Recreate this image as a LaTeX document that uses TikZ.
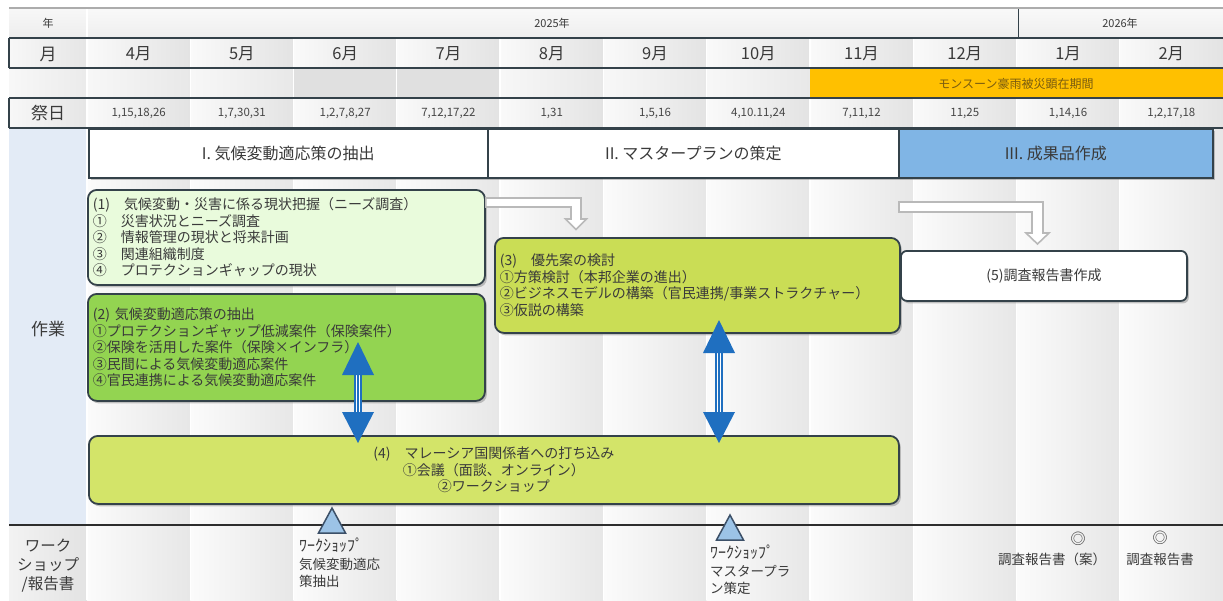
\documentclass[tikz,border=0pt]{standalone}
\usepackage{fontspec}
\setmainfont{Noto Sans CJK JP}
\usetikzlibrary{shadows}
\definecolor{txt}{HTML}{3A3A3A}
\definecolor{lineD}{HTML}{34424A}
\definecolor{orangeM}{HTML}{FFC000}
\definecolor{monTxt}{HTML}{7A5C10}
\definecolor{lblue}{HTML}{E3EBF6}
\definecolor{phaseBlue}{HTML}{80B5E5}
\definecolor{gA}{HTML}{E9FBDC}
\definecolor{gB}{HTML}{93D451}
\definecolor{gC}{HTML}{CADD55}
\definecolor{gD}{HTML}{D3E469}
\definecolor{arrowBlue}{HTML}{1F6FC0}
\definecolor{triBlue}{HTML}{9CC3E6}
\definecolor{triLine}{HTML}{3C5068}
\begin{document}
\begin{tikzpicture}[x=1pt,y=-1pt,
  every node/.style={text=txt, inner sep=0pt},
  boxshadow/.style={drop shadow={shadow xshift=2pt, shadow yshift=-2.5pt, opacity=0.45}},
  taskbox/.style={draw=lineD, line width=1.8pt, rounded corners=9pt, anchor=north west,
    inner xsep=5pt, inner ysep=0pt, align=left, font=\fontsize{14}{16.6}\selectfont, boxshadow},
  phasebox/.style={draw=lineD, line width=1.6pt, anchor=north west, fill=white,
    font=\fontsize{16}{18}\selectfont, boxshadow},
  monthlbl/.style={font=\fontsize{16.5}{18}\selectfont, text=txt},
  holilbl/.style={font=\fontsize{11.5}{13}\selectfont, text=gray!55!black},
  rowlbl/.style={font=\fontsize{17}{19}\selectfont, text=txt},
  smalllbl/.style={font=\fontsize{13.5}{17.5}\selectfont, text=txt, align=left, anchor=north west},
  hollowarrow/.style={draw=gray!55, line width=1.6pt, fill=white, line join=miter},
  tribox/.style={draw=triLine, line width=1.5pt, fill=triBlue, line join=miter}
]
\useasboundingbox (0,0) rectangle (1223,600);
\fill[white] (0,0) rectangle (1223,600);

% ---------- backgrounds ----------
\shade[top color=gray!6, bottom color=gray!14] (9,8) rectangle (87,38);
\shade[top color=gray!5, bottom color=gray!13] (87,8) rectangle (1223,38);
\draw[white, line width=1.5pt] (87,8) -- (87,38);
\draw[lineD, line width=1pt] (1018,8) -- (1018,38);
\draw[gray!65, line width=1.8pt] (9,8) -- (1223,8);

\shade[left color=gray!6, right color=gray!20] (9,38) rectangle (87,68);
\shade[left color=gray!6, right color=gray!16] (9,68) rectangle (87,98);
\shade[left color=gray!6, right color=gray!20] (9,98) rectangle (87,128);
\fill[lblue] (9,128) rectangle (87,525);
\shade[left color=gray!10, right color=gray!22] (9,525) rectangle (87,600);

\foreach \i in {0,...,10}{
  \pgfmathsetmacro\xl{87+103.27*\i}
  \pgfmathsetmacro\xr{87+103.27*(\i+1)}
  \shade[left color=gray!3, right color=gray!19] (\xl,128) rectangle (\xr,600);
  \shade[left color=gray!4, right color=gray!22] (\xl,38) rectangle (\xr,68);
  \shade[left color=gray!6, right color=gray!18] (\xl,68) rectangle (\xr,98);
  \shade[left color=gray!4, right color=gray!22] (\xl,98) rectangle (\xr,128);
}
\fill[gray!24] (293.54,68) rectangle (500.08,98);
\fill[orangeM] (809.9,68) rectangle (1223,98);
\foreach \i in {0,...,10}{
  \pgfmathsetmacro\xl{87+103.27*\i}
  \draw[white, line width=1.3pt] (\xl,38) -- (\xl,68);
  \draw[white, line width=1.3pt] (\xl,98) -- (\xl,600);
  \ifnum\i<7 \draw[white, line width=1.3pt] (\xl,68) -- (\xl,98); \fi
}

\draw[lineD, line width=1.2pt] (9,38) -- (1223,38) (9,68) -- (1223,68)
  (9,98) -- (1223,98) (9,128) -- (1223,128);
\draw[lineD, line width=1.2pt] (9,38) -- (9,68) (9,98) -- (9,128);
\draw[gray!35!black, line width=1.2pt] (9,525) -- (1223,525);

% ---------- header texts ----------
\node[font=\fontsize{11}{13}\selectfont] (yl) at (48,23) {年};
\node[font=\fontsize{11}{13}\selectfont] (y25) at (552,23) {2025年};
\node[font=\fontsize{11}{13}\selectfont] (y26) at (1120,23) {2026年};
\node[rowlbl] (ml) at (48,54) {月};
\node[rowlbl] (hl) at (48,113) {祭日};
\node[rowlbl] (wl) at (48,329) {作業};
\node[rowlbl, font=\fontsize{15.5}{19}\selectfont, align=center] (bl) at (48,566) {ワーク\\ショップ\\/報告書};

\foreach \m [count=\i from 0] in {4,5,6,7,8,9,10,11,12,1,2}{
  \pgfmathsetmacro\cx{87+103.27*(\i+0.5)}
  \node[monthlbl] (mo\i) at (\cx,54) {\m 月};
}
\foreach \h [count=\i from 0] in {{1,15,18,26},{1,7,30,31},{1,2,7,8,27},{7,12,17,22},{1,31},{1,5,16},{4,10.11,24},{7,11,12},{11,25},{1,14,16},{1,2,17,18}}{
  \pgfmathsetmacro\cx{87+103.27*(\i+0.5)}
  \node[holilbl] (ho\i) at (\cx,113) {\h};
}
\node[font=\fontsize{12}{14}\selectfont, text=monTxt] (mon) at (1016,84) {モンスーン豪雨被災顕在期間};

% ---------- phase boxes ----------
\node[phasebox, minimum width=399pt, minimum height=49pt] (p1) at (88,128) {I. 気候変動適応策の抽出};
\node[phasebox, minimum width=411pt, minimum height=49pt] (p2) at (487,128) {II. マスタープランの策定};
\node[phasebox, fill=phaseBlue, minimum width=314pt, minimum height=49pt] (p3) at (898,128) {III. 成果品作成};

% ---------- task boxes ----------
\node[taskbox, fill=gA, text width=387pt, minimum height=95pt] (n1) at (87,189)
  {(1)　気候変動・災害に係る現状把握（ニーズ調査）\\
   ①　災害状況とニーズ調査\\
   ②　情報管理の現状と将来計画\\
   ③　関連組織制度\\
   ④　プロテクションギャップの現状};
\node[taskbox, fill=gB, text width=387pt, minimum height=107pt] (n2) at (87,293)
  {(2) 気候変動適応策の抽出\\
   ①プロテクションギャップ低減案件（保険案件）\\
   ②保険を活用した案件（保険×インフラ）\\
   ③民間による気候変動適応案件\\
   ④官民連携による気候変動適応案件};
\node[taskbox, fill=gC, text width=395pt, minimum height=95pt] (n3) at (494,237)
  {(3)　優先案の検討\\
   ①方策検討（本邦企業の進出）\\
   ②ビジネスモデルの構築（官民連携/事業ストラクチャー）\\
   ③仮説の構築\\[10pt]};
\node[taskbox, fill=gD, text width=800pt, minimum height=68pt, align=center] (n4) at (88,435)
  {(4)　マレーシア国関係者への打ち込み\\
   ①会議（面談、オンライン）\\
   ②ワークショップ};
\node[taskbox, fill=white, rounded corners=6pt, text width=276pt, minimum height=50pt,
  align=center, font=\fontsize{14}{16}\selectfont] (n5) at (900,250) {(5)調査報告書作成};

% ---------- hollow gray arrows ----------
\coordinate (ga) at (n1.east |- 0,198);
\draw[hollowarrow] (ga) -- (581,198) -- (581,219) -- (586.5,219) -- (576,229.5)
  -- (565.5,219) -- (571,219) -- (571,207) -- (ga |- 0,207) -- cycle;
\coordinate (gb) at (899,202);
\draw[hollowarrow] (gb) -- (1043,202) -- (1043,233) -- (1049,233) -- (1037.5,244)
  -- (1026,233) -- (1032,233) -- (1032,212) -- (gb |- 0,212) -- cycle;

% ---------- blue double arrows ----------
\foreach \nm/\x/\ytop in {ba/358/342, bb/719/320}{
  \coordinate (\nm t) at (\x,\ytop);
  \coordinate (\nm b) at (\x,443);
  \draw[arrowBlue, line width=7.5pt] ([yshift=-30pt]\nm t) -- ([yshift=28pt]\nm b);
  \draw[white, line width=4.5pt] ([yshift=-30pt]\nm t) -- ([yshift=28pt]\nm b);
  \draw[arrowBlue, line width=1.5pt] ([yshift=-30pt]\nm t) -- ([yshift=28pt]\nm b);
  \fill[arrowBlue] (\nm t) -- ++(-16,33) -- ++(32,0) -- cycle;
  \fill[arrowBlue] (\nm b) -- ++(-16,-31) -- ++(32,0) -- cycle;
}

% ---------- bottom row ----------
\draw[tribox] (332,508) -- (345.5,533) -- (318.5,533) -- cycle;
\draw[tribox] (730,515) -- (743.5,540) -- (716.5,540) -- cycle;
\node[smalllbl] (w1) at (299,538) {{\fontsize{16}{17.5}\selectfont ﾜｰｸｼｮｯﾌﾟ}\\気候変動適応\\策抽出};
\node[smalllbl] (w2) at (710,545) {{\fontsize{16}{17.5}\selectfont ﾜｰｸｼｮｯﾌﾟ}\\マスタープラ\\ン策定};
\node[font=\fontsize{15}{17}\selectfont] (r1) at (1078,539) {◎};
\node[font=\fontsize{15}{17}\selectfont] (r2) at (1160,538) {◎};
\node[font=\fontsize{13.5}{16}\selectfont] (r1t) at (1052,559) {調査報告書（案）};
\node[font=\fontsize{13.5}{16}\selectfont] (r2t) at (1160,559) {調査報告書};
\end{tikzpicture}
\end{document}
